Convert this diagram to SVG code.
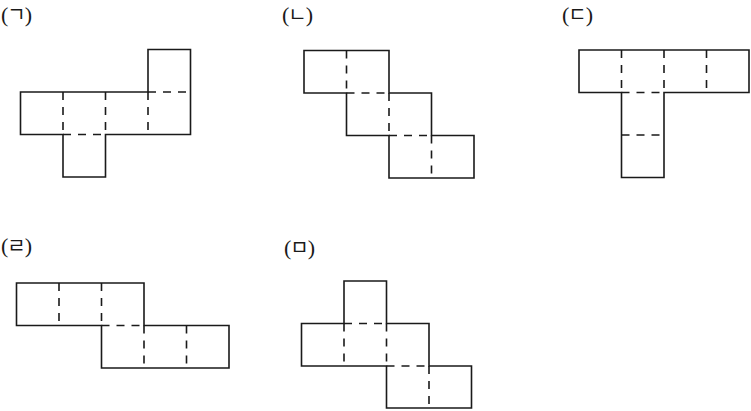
<svg xmlns="http://www.w3.org/2000/svg" width="751" height="411" viewBox="0 0 751 411">
<style>
.o{fill:none;stroke:#1a1a1a;stroke-width:1.6;stroke-linejoin:miter}
.d{fill:none;stroke:#1a1a1a;stroke-width:1.6;stroke-dasharray:8 7}
.t{font-family:"Liberation Serif","Noto Sans CJK KR",serif;font-size:22px;fill:#1a1a1a}
.j{font-family:"Noto Sans CJK KR",sans-serif;font-size:20px}
</style>
<rect width="751" height="411" fill="#fff"/>
<g id="net-a">
<text class="t" x="1" y="22">(<tspan class="j" dx="-1">ㄱ</tspan><tspan dx="-1">)</tspan></text>
<path class="o" d="M20.5,92H148V49.5H190.5V134.5H105.5V177H63V134.5H20.5Z"/>
<path class="d" d="M63,92V134.5M105.5,92V134.5M148,92V134.5M63,134.5H105.5M148,92H190.5"/>
</g>
<g id="net-b">
<text class="t" x="282" y="22">(<tspan class="j" dx="-1">ㄴ</tspan><tspan dx="-1">)</tspan></text>
<path class="o" d="M304,50.5H389V93H431.5V135.5H474V178H389V135.5H346.5V93H304Z"/>
<path class="d" d="M346.5,50.5V93M346.5,93H389M389,93V135.5M389,135.5H431.5M431.5,135.5V178"/>
</g>
<g id="net-c">
<text class="t" x="562" y="22">(<tspan class="j" dx="-1">ㄷ</tspan><tspan dx="-1">)</tspan></text>
<path class="o" d="M579,50H749V92.5H664V177.5H621.5V92.5H579Z"/>
<path class="d" d="M621.5,50V92.5M664,50V92.5M706.5,50V92.5M621.5,92.5H664M621.5,135H664"/>
</g>
<g id="net-d">
<text class="t" x="1" y="253">(<tspan class="j" dx="-1">ㄹ</tspan><tspan dx="-1">)</tspan></text>
<path class="o" d="M16.5,283H144V325.5H229V368H101.5V325.5H16.5Z"/>
<path class="d" d="M59,283V325.5M101.5,283V325.5M101.5,325.5H144M144,325.5V368M186.5,325.5V368"/>
</g>
<g id="net-e">
<text class="t" x="284" y="255">(<tspan class="j" dx="-1">ㅁ</tspan><tspan dx="-1">)</tspan></text>
<path class="o" d="M344,281H386.5V323.5H429V366H471.5V408H386.5V366H301.5V323.5H344Z"/>
<path class="d" d="M344,323.5H386.5M344,323.5V366M386.5,323.5V366M386.5,366H429M429,366V408"/>
</g>
</svg>
